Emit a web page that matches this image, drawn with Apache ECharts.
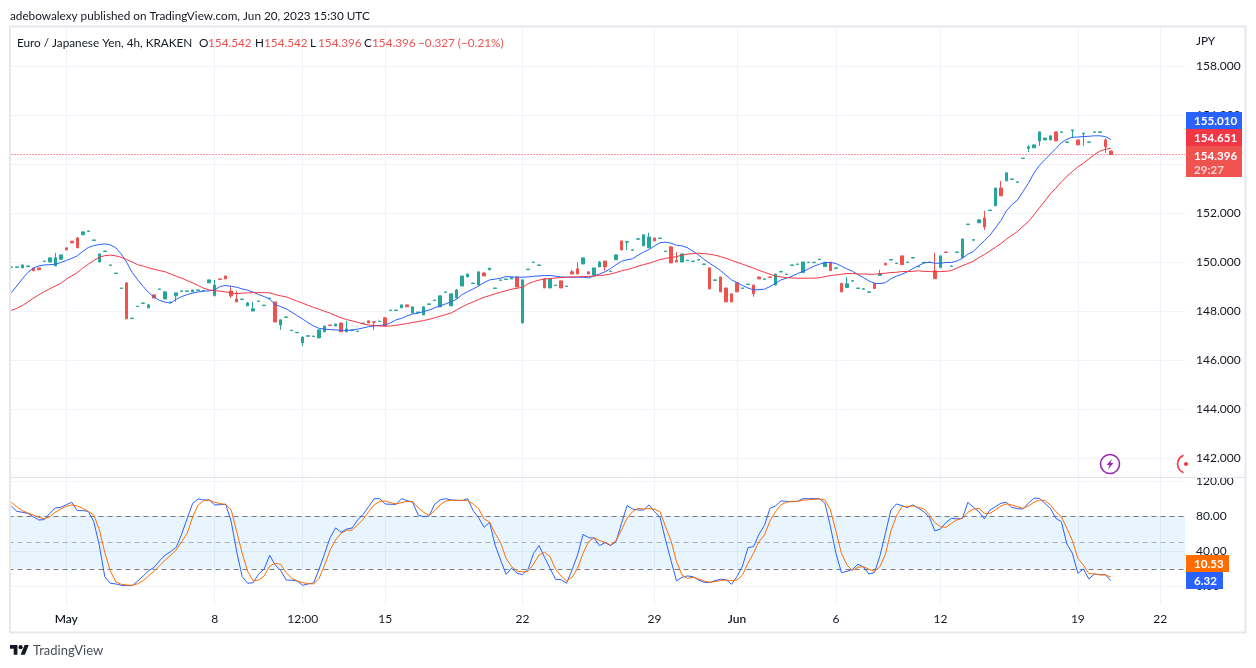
<!DOCTYPE html>
<html><head><meta charset="utf-8">
<style>html,body{margin:0;padding:0;background:#fff}#c{width:1256px;height:668px}</style>
<script src="https://cdn.jsdelivr.net/npm/echarts@6/dist/echarts.min.js"></script>
</head><body><div id="c"></div>
<script>
const opens=[149.79,149.79,149.77,149.83,149.76,149.77,150.03,150.01,149.85,150.12,
150.59,150.86,150.99,151.12,151.26,150.89,150.01,150.44,149.87,149.54,
148.93,149.16,147.70,148.19,148.32,148.14,148.67,148.89,148.50,148.36,
148.63,148.81,148.81,148.79,148.85,148.83,149.16,148.63,149.32,149.44,
148.83,148.50,148.48,148.22,148.01,148.40,148.23,148.52,148.38,147.44,
147.75,147.21,147.12,146.71,146.98,146.97,146.91,147.16,147.44,147.40,
147.52,147.16,147.21,147.17,147.50,147.61,147.57,147.58,147.73,148.03,
148.03,148.14,148.26,147.93,147.95,147.85,148.28,148.44,148.18,148.77,
148.22,148.54,149.03,149.40,149.13,149.07,149.56,149.69,148.93,149.26,
149.30,149.32,149.40,147.52,149.70,149.99,149.87,149.32,148.95,149.05,
149.24,149.01,149.61,149.73,149.93,149.61,149.48,149.81,150.05,149.62,
150.10,150.87,150.82,150.49,150.94,150.67,150.59,150.99,150.97,150.44,
150.63,150.08,150.01,150.07,150.03,150.09,149.91,149.77,149.26,149.40,
148.95,148.71,149.16,148.93,149.09,149.07,149.40,149.30,149.40,149.07,
149.60,149.50,149.87,149.91,149.58,149.98,149.98,150.11,149.82,150.00,
149.75,149.14,148.97,149.23,148.93,148.90,148.77,149.14,149.46,149.96,
150.09,149.95,150.26,149.99,150.17,149.81,149.98,149.99,149.65,149.78,
150.42,149.83,150.40,150.18,151.54,150.90,151.61,151.81,152.11,152.30,
153.03,153.32,153.38,153.26,154.23,154.65,154.67,154.95,154.99,154.99,
155.32,155.30,154.89,155.37,154.99,155.24,154.89,155.30,155.30,154.99,154.542];
const closes=[149.81,149.81,149.89,149.85,149.65,149.69,150.05,150.18,150.18,150.30,
150.50,150.79,150.59,151.24,151.28,150.91,150.34,150.46,149.89,149.56,
148.95,147.69,147.72,148.21,148.34,148.26,148.54,148.91,148.79,148.38,
148.75,148.83,148.83,148.87,148.87,148.85,149.28,149.07,149.30,149.32,
148.63,148.38,148.50,148.34,148.10,148.42,148.25,148.54,147.56,147.65,
147.77,147.23,147.14,146.95,147.00,146.99,147.24,147.40,147.42,147.48,
147.16,147.28,147.23,147.19,147.52,147.52,147.55,147.60,147.40,148.05,
148.05,148.26,148.18,148.18,147.97,148.18,148.30,148.46,148.63,148.79,
148.71,148.87,149.44,149.52,149.15,149.61,149.44,149.76,148.95,149.28,
149.32,149.39,148.99,149.28,149.72,150.01,149.89,148.95,149.32,149.07,
148.95,149.03,149.52,149.52,150.18,149.52,149.77,150.01,149.81,149.64,
150.30,150.50,150.84,150.51,150.96,151.12,151.03,150.87,150.99,150.46,
149.97,150.01,150.34,150.09,150.05,150.11,149.93,148.91,149.28,148.79,
148.38,148.38,148.79,148.95,149.11,148.71,149.32,149.32,149.38,149.52,
149.62,149.52,149.89,149.93,150.01,150.00,150.00,150.13,150.00,149.66,
149.77,148.79,149.12,149.25,148.95,148.92,148.79,148.93,149.52,149.89,
150.11,149.97,149.90,150.01,150.19,149.83,150.00,150.01,149.33,150.26,
150.40,149.85,150.42,150.95,151.56,150.92,151.73,151.44,152.13,153.03,
152.71,153.65,153.40,153.28,154.25,154.71,154.79,155.32,155.07,155.16,
154.95,155.32,154.91,155.40,154.79,155.27,154.91,155.32,155.32,154.71,154.396];
const wickHighs={8:150.38,12:151.03,25:148.30,28:148.83,37:149.28,40:149.02,41:148.83,43:148.38,44:148.38,54:147.03,61:147.61,68:147.76,81:148.91,86:149.61,102:149.69,103:150.00,107:150.05,116:151.20,121:150.42,140:149.65,152:149.39,158:149.69,168:150.38,177:152.10,180:153.32,185:154.79,199:155.07};
const wickLows={30:148.39,40:148.54,49:147.24,53:146.59,66:147.24,106:149.44,108:149.65,112:150.50,135:148.59,177:151.32,185:154.50,187:154.75,193:155.07,195:154.75,199:154.46};
const maBlue=[148.76,149.03,149.32,149.58,149.76,149.85,149.89,149.90,149.92,149.99,
150.07,150.16,150.26,150.44,150.60,150.68,150.72,150.75,150.71,150.59,
150.34,149.99,149.58,149.28,149.01,148.76,148.57,148.44,148.37,148.33,
148.49,148.60,148.68,148.74,148.79,148.82,148.83,148.87,149.01,149.05,
149.02,148.98,148.91,148.86,148.78,148.68,148.60,148.49,148.27,148.19,
148.10,147.96,147.82,147.68,147.53,147.40,147.30,147.27,147.25,147.24,
147.22,147.22,147.24,147.27,147.32,147.37,147.40,147.42,147.44,147.53,
147.65,147.71,147.81,147.89,147.92,147.99,148.05,148.14,148.22,148.30,
148.38,148.49,148.68,148.80,148.91,149.03,149.17,149.28,149.31,149.35,
149.42,149.40,149.39,149.39,149.40,149.43,149.44,149.46,149.46,149.43,
149.40,149.39,149.39,149.39,149.39,149.36,149.44,149.52,149.61,149.74,
149.90,150.04,150.10,150.14,150.29,150.41,150.52,150.67,150.80,150.82,
150.78,150.69,150.67,150.59,150.45,150.30,150.12,149.96,149.82,149.66,
149.47,149.28,149.17,149.05,148.95,148.87,148.88,148.90,149.01,149.14,
149.28,149.35,149.43,149.54,149.62,149.73,149.84,149.92,149.99,149.99,
149.95,149.84,149.73,149.63,149.50,149.37,149.24,149.14,149.13,149.17,
149.33,149.43,149.51,149.61,149.74,149.86,149.97,150.00,149.96,149.96,
149.99,149.99,150.05,150.16,150.33,150.44,150.67,150.88,151.10,151.40,
151.70,152.10,152.35,152.53,152.88,153.22,153.63,153.95,154.19,154.41,
154.64,154.88,155.02,155.10,155.11,155.13,155.14,155.16,155.16,155.13,155.01];
const maRed=[148.03,148.12,148.23,148.38,148.53,148.67,148.80,148.92,149.03,149.14,
149.31,149.44,149.58,149.76,149.92,150.07,150.20,150.27,150.29,150.26,
150.20,150.11,150.01,149.90,149.84,149.77,149.71,149.66,149.61,149.52,
149.43,149.35,149.25,149.16,149.05,148.94,148.87,148.84,148.82,148.79,
148.75,148.72,148.74,148.75,148.76,148.76,148.76,148.75,148.68,148.63,
148.59,148.50,148.41,148.33,148.24,148.16,148.08,148.00,147.92,147.82,
147.73,147.66,147.61,147.55,147.48,147.44,147.42,147.40,147.39,147.40,
147.43,147.46,147.50,147.54,147.58,147.62,147.67,147.73,147.80,147.86,
147.93,148.05,148.18,148.29,148.38,148.48,148.57,148.64,148.71,148.78,
148.84,148.90,148.94,148.98,149.12,149.21,149.27,149.32,149.33,149.36,
149.37,149.39,149.40,149.40,149.42,149.42,149.44,149.46,149.48,149.52,
149.58,149.65,149.70,149.76,149.84,149.90,149.96,150.03,150.11,150.16,
150.19,150.23,150.29,150.33,150.35,150.37,150.35,150.33,150.29,150.23,
150.16,150.08,150.00,149.92,149.84,149.76,149.67,149.59,149.51,149.44,
149.40,149.37,149.36,149.35,149.35,149.35,149.35,149.37,149.41,149.46,
149.48,149.51,149.54,149.54,149.52,149.52,149.51,149.51,149.54,149.55,
149.58,149.59,149.62,149.62,149.63,149.65,149.63,149.62,149.61,149.62,
149.63,149.66,149.76,149.86,149.95,150.04,150.19,150.31,150.46,150.61,
150.76,150.94,151.10,151.25,151.46,151.66,151.93,152.22,152.50,152.79,
153.02,153.28,153.50,153.70,153.89,154.04,154.22,154.39,154.53,154.61,154.65];
const stochK=[91.8,85.7,84.6,83.4,79.6,75.8,76.2,83.4,89.5,90.3,
93.3,96.0,86.5,86.5,85.7,73.9,47.2,11.0,3.4,2.7,
1.1,0.8,0.8,6.1,11.8,17.9,21.7,29.3,35.8,39.6,
44.6,59.8,77.7,94.9,99.8,98.7,98.7,93.0,93.3,93.7,
73.9,39.6,11.0,3.4,4.2,14.1,19.8,35.4,24.4,17.9,
7.2,6.9,6.1,1.1,2.7,3.8,19.8,37.7,55.6,66.7,
61.7,65.5,66.7,75.8,82.3,91.0,100.2,100.2,94.1,93.7,
93.7,100.2,97.9,96.0,81.5,79.6,80.4,93.7,98.7,100.2,
98.7,98.3,97.9,100.2,86.5,78.5,67.4,73.1,47.2,30.1,
13.7,20.6,14.9,13.3,19.4,37.7,46.5,33.1,20.6,8.0,
7.6,3.4,18.7,35.8,59.4,55.6,54.9,46.5,49.9,46.5,
51.0,72.0,92.2,88.4,87.2,87.2,93.0,85.3,78.9,53.0,
29.3,6.1,10.3,11.8,11.0,7.2,4.6,4.2,6.5,8.0,
7.6,2.3,11.0,23.2,44.2,45.3,59.4,69.7,89.1,91.8,
97.5,97.1,96.8,97.1,100.2,100.2,100.2,100.2,94.9,68.2,
37.7,15.6,17.1,19.4,25.1,22.1,14.1,15.6,34.7,60.6,
87.2,94.1,92.2,89.9,93.0,89.1,85.3,78.9,63.2,65.5,
72.8,77.7,77.0,77.7,96.0,90.3,85.3,77.0,87.2,91.0,
94.9,96.0,90.3,88.8,88.4,94.9,100.6,100.6,94.9,89.1,
77.7,73.9,48.4,37.7,14.9,19.8,8.4,14.1,13.3,13.3,6.32];
const stochD=[96.0,91.0,86.5,83.8,81.5,78.9,77.0,79.6,84.6,88.4,
91.4,93.0,91.8,89.1,85.7,81.5,65.1,38.5,17.9,5.0,
2.3,1.5,1.1,3.0,6.5,11.8,17.5,23.6,30.1,35.4,
41.5,51.0,60.6,79.6,93.0,97.9,98.7,96.0,94.5,93.7,
87.2,62.5,37.7,16.8,6.1,7.2,11.8,23.2,26.3,25.1,
15.6,9.1,6.1,4.2,3.0,2.7,9.1,24.4,41.5,53.0,
60.6,64.0,64.4,70.1,76.6,85.3,93.0,97.1,97.5,95.6,
94.1,95.6,97.1,96.8,89.9,84.6,81.1,86.5,93.0,97.5,
98.3,98.3,98.3,97.9,94.1,88.8,77.0,73.5,60.6,49.9,
32.0,22.5,17.5,16.4,17.1,25.5,35.8,38.9,33.9,19.4,
11.8,6.1,10.3,20.6,37.7,51.0,55.6,52.2,50.3,47.2,
52.2,64.4,77.7,85.3,89.1,88.4,88.8,88.0,85.3,68.2,
52.2,28.2,13.0,9.1,10.3,8.4,6.1,4.6,5.3,6.5,
7.2,6.5,7.2,13.0,26.3,37.7,51.0,58.7,74.7,85.3,
93.3,96.0,97.1,97.1,98.3,99.0,99.4,99.8,98.7,87.2,
63.0,37.7,24.4,17.9,21.7,22.5,19.4,17.1,22.5,36.6,
63.2,80.4,91.0,91.4,91.8,90.3,88.4,81.5,72.8,68.2,
67.4,72.0,75.8,77.7,84.6,88.0,89.1,83.4,83.4,87.2,
91.8,94.1,93.0,91.0,89.1,91.8,96.0,98.7,97.9,93.0,
85.3,79.6,66.3,52.2,32.0,24.4,14.5,14.1,13.0,13.0,10.53];
const tickIndex=[10,37,53,68,93,117,132,150,169,194,209];
const tickLabels=['May','8','12:00','15','22','29','Jun','6','12','19','22'];
const priceTicks=[142,144,146,148,150,152,154,156,158];
const oscTicks=[0,40,80,120];
const lastPrice=154.396;
const categoryCount=214;

const categories=Array.from({length:categoryCount},(_,i)=>{const k=tickIndex.indexOf(i);return k>=0?tickLabels[k]:'';});
const candles=opens.map((o,i)=>{const c=closes[i];
  const lo=wickLows[i]!==undefined?wickLows[i]:Math.min(o,c);
  const hi=wickHighs[i]!==undefined?wickHighs[i]:Math.max(o,c);
  return [o,c,lo,hi];});
const isTick=i=>tickIndex.includes(i);
const FONT='Lato,sans-serif', DARK='#131722', RED='#ef5350', UP='#26a69a', GRIDC='#f0f3fa', FRAME='#e0e3eb';
const gridLeft=8.55, gridWidth=1176.5;
const xBase={type:'category',data:categories,boundaryGap:true,axisLine:{show:false},axisTick:{show:false},
  splitLine:{show:true,alignWithLabel:true,interval:(i)=>isTick(i),lineStyle:{color:GRIDC,width:1}}};
const yBase={position:'right',scale:false,axisLine:{show:false},axisTick:{show:false},
  splitLine:{show:true,lineStyle:{color:GRIDC,width:1}}};
function txt(x,y,s,color,extra){return Object.assign({type:'text',x,y,silent:true,z:20,style:{text:s,fill:color||DARK,font:'11.75px '+FONT,textVerticalAlign:'middle'}},extra||{});}
function tag(x,y,w,h,fill,lines,op){
  const out=[{type:'rect',silent:true,z:30,shape:{x,y,width:w,height:h},style:{fill,opacity:op||1}}];
  lines.forEach(l=>out.push({type:'text',silent:true,z:31,x:x+8,y:l[1],style:{text:l[0],fill:l[2]||'#fff',font:'bold 11.6px '+FONT,textVerticalAlign:'middle'}}));
  return out;
}
const chart=echarts.init(document.getElementById('c'),null,{renderer:'canvas'});
chart.setOption({
  animation:false,backgroundColor:'#fff',
  grid:[{left:gridLeft,width:gridWidth,top:27,height:450.4,containLabel:false},
        {left:gridLeft,width:gridWidth,top:478,height:127,containLabel:false}],
  xAxis:[Object.assign({},xBase,{gridIndex:0,axisLabel:{show:false}}),
         Object.assign({},xBase,{gridIndex:1,axisLabel:{show:true,interval:(i)=>isTick(i),margin:8,hideOverlap:false,
            color:DARK,fontFamily:FONT,fontSize:12,
            formatter:(v)=>(v==='May'||v==='Jun')?'{m|'+v+'}':v,
            rich:{m:{fontFamily:FONT,fontSize:12,fontWeight:600,color:DARK}}}})],
  yAxis:[Object.assign({},yBase,{type:'value',gridIndex:0,min:141.22,max:159.6,
            axisTick:{show:false,customValues:priceTicks},
            axisLabel:{customValues:priceTicks,margin:11,color:DARK,fontFamily:FONT,fontSize:12,padding:[2,0,0,0],formatter:v=>v.toFixed(3)}}),
         Object.assign({},yBase,{type:'value',gridIndex:1,min:-21.4,max:123.8,
            axisTick:{show:false,customValues:oscTicks},
            axisLabel:{customValues:oscTicks,margin:11,color:DARK,fontFamily:FONT,fontSize:12,padding:[2,0,0,0],formatter:v=>v.toFixed(2)}})],
  series:[
   {type:'candlestick',name:'EURJPY',xAxisIndex:0,yAxisIndex:0,data:candles,barWidth:3,
    itemStyle:{color:UP,color0:RED,borderColor:UP,borderColor0:RED,borderWidth:1},silent:true,
    markLine:{silent:true,symbol:'none',label:{show:false},animation:false,
      lineStyle:{color:'#f23645',type:[1,2],width:1},data:[{yAxis:lastPrice}]}},
   {type:'line',name:'MA fast',xAxisIndex:0,yAxisIndex:0,data:maBlue,showSymbol:false,silent:true,lineStyle:{color:'#2962ff',width:1},itemStyle:{color:'#2962ff'}},
   {type:'line',name:'MA slow',xAxisIndex:0,yAxisIndex:0,data:maRed,showSymbol:false,silent:true,lineStyle:{color:'#f23645',width:1},itemStyle:{color:'#f23645'}},
   {type:'line',name:'%K',xAxisIndex:1,yAxisIndex:1,data:stochK,showSymbol:false,silent:true,lineStyle:{color:'#2962ff',width:1},itemStyle:{color:'#2962ff'},z:5,
    markArea:{silent:true,itemStyle:{color:'rgba(33,150,243,0.1)'},data:[[{yAxis:20},{yAxis:80}]]},
    markLine:{silent:true,symbol:'none',label:{show:false},animation:false,
      data:[{yAxis:80,lineStyle:{color:'#787b86',type:[5,4],width:1}},
            {yAxis:50,lineStyle:{color:'rgba(120,123,134,0.55)',type:[5,4],width:1}},
            {yAxis:20,lineStyle:{color:'#787b86',type:[5,4],width:1}}]}},
   {type:'line',name:'%D',xAxisIndex:1,yAxisIndex:1,data:stochD,showSymbol:false,silent:true,lineStyle:{color:'#ff6d00',width:1},itemStyle:{color:'#ff6d00'},z:6}
  ],
  graphic:[
    {type:'rect',silent:true,z:10,shape:{x:0,y:0,width:9.5,height:668},style:{fill:'#fff'}},
    {type:'rect',silent:true,z:11,shape:{x:10,y:26.5,width:1235.5,height:606},style:{fill:'none',stroke:'#e6e8ee',lineWidth:2}},
    {type:'line',silent:true,z:11,shape:{x1:10,y1:477.5,x2:1245,y2:477.5},style:{stroke:FRAME,lineWidth:1}},
    txt(10,16,'adebowalexy published on TradingView.com, Jun 20, 2023 15:30 UTC'),
    txt(17,43,'Euro / Japanese Yen, 4h, KRAKEN'),
    txt(199,43,'O'),txt(208,43,'154.542',RED),
    txt(255,43,'H'),txt(264,43,'154.542',RED),
    txt(310,43,'L'),txt(318,43,'154.396',RED),
    txt(364,43,'C'),txt(372,43,'154.396',RED),
    txt(418,43,'\u22120.327 (\u22120.21%)',RED),
    txt(1196,41,'JPY'),
    {type:'circle',silent:true,z:15,shape:{cx:1110,cy:464,r:9.5},style:{fill:'#fff',stroke:'#9c27b0',lineWidth:1.6}},
    {type:'polygon',silent:true,z:16,shape:{points:[[1112,459],[1106.5,465],[1109.5,465],[1108,469.5],[1113.5,463],[1110.5,463]]},style:{fill:'#9c27b0'}},
    {type:'arc',silent:true,z:15,shape:{cx:1187,cy:464,r:9.5,startAngle:Math.PI*0.62,endAngle:Math.PI*1.38,clockwise:true},style:{fill:'none',stroke:'#f23645',lineWidth:1.6}},
    {type:'circle',silent:true,z:15,shape:{cx:1186,cy:464,r:2},style:{fill:'#f23645'}},
    ...tag(1186,112,56,17,'#2962ff',[['155.010',121]]),
    ...tag(1186,129,56,17,'#f23645',[['154.651',138.5]]),
    ...tag(1186,146,56,31,RED,[['154.396',156],['29:27',170,'rgba(255,255,255,0.75)']]),
    ...tag(1186,555,43,17,'#ff6d00',[['10.53',564.5]]),
    ...tag(1186,572,37,17,'#2962ff',[['6.32',581.5]]),
    {type:'group',silent:true,z:20,x:10,y:643,scaleX:0.53,scaleY:0.53,children:[
      {type:'polygon',shape:{points:[[14,22],[7,22],[7,11],[0,11],[0,4],[14,4]]},style:{fill:DARK}},
      {type:'polygon',shape:{points:[[28,22],[20,22],[27.5,4],[35.5,4]]},style:{fill:DARK}},
      {type:'circle',shape:{cx:20,cy:8,r:4},style:{fill:DARK}}]},
    txt(33,651,'TradingView','#4a4e59',{style:{text:'TradingView',fill:'#4a4e59',font:'13px '+FONT,textVerticalAlign:'middle'}})
  ]
});
</script></body></html>
